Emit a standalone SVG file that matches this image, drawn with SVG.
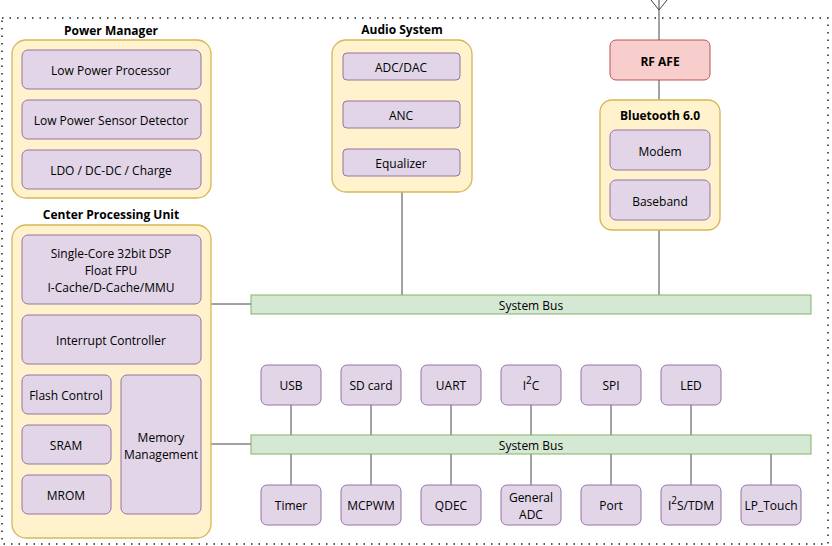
<svg xmlns="http://www.w3.org/2000/svg" width="832" height="546" viewBox="0 0 832 546">
<style>
text{font-family:"Open Sans","Noto Sans",sans-serif;font-size:12px;fill:#000;text-anchor:middle;dominant-baseline:central}
.t{font-weight:bold}
.c{fill:#fff2cc;stroke:#d6b656;stroke-width:1.3}
.b{fill:#e1d5e7;stroke:#9673a6;stroke-width:1}
.bus{fill:#d5e8d4;stroke:#82b366}
#conn line,#conn path{stroke:#444;stroke-width:1;fill:none}
</style>
<rect width="832" height="546" fill="#fff"/>
<rect x="2" y="18" width="826" height="526" fill="none" stroke="#222" stroke-width="1.5" stroke-dasharray="1.5 6"/>
<g id="conn">
<path d="M659 40V0M659 10L651 0M659 10L667 0"/>
<line x1="659" y1="80" x2="659" y2="100"/>
<line x1="659" y1="230" x2="659" y2="295"/>
<line x1="402" y1="192" x2="402" y2="295"/>
<line x1="211" y1="304" x2="251" y2="304"/>
<line x1="211" y1="444" x2="251" y2="444"/>
<path d="M291 405V435M371 405V435M451 405V435M531 405V435M611 405V435M691 405V435"/>
<path d="M291 454V485M371 454V485M451 454V485M531 454V485M611 454V485M691 454V485M771 454V485"/>
</g>
<g id="power"><rect class="c" x="12" y="40" width="199" height="158" rx="14"/><text class="t" x="111" y="30">Power Manager</text>
<rect class="b" x="22" y="50" width="179" height="39" rx="6"/><text x="111" y="70">Low Power Processor</text>
<rect class="b" x="22" y="100" width="179" height="39" rx="6"/><text x="111" y="120">Low Power Sensor Detector</text>
<rect class="b" x="22" y="150" width="179" height="39" rx="6"/><text x="111" y="170">LDO / DC-DC / Charge</text></g>
<g id="cpu"><rect class="c" x="12" y="225" width="199" height="313" rx="14"/><text class="t" x="111" y="214">Center Processing Unit</text>
<rect class="b" x="22" y="235" width="179" height="69" rx="6"/><text x="111" y="253">Single-Core 32bit DSP</text><text x="111" y="270">Float FPU</text><text x="111" y="287">I-Cache/D-Cache/MMU</text>
<rect class="b" x="22" y="315" width="179" height="49" rx="6"/><text x="111" y="340">Interrupt Controller</text>
<rect class="b" x="22" y="375" width="89" height="39" rx="6"/><text x="66" y="395">Flash Control</text>
<rect class="b" x="22" y="425" width="89" height="39" rx="6"/><text x="66" y="445">SRAM</text>
<rect class="b" x="22" y="475" width="89" height="39" rx="6"/><text x="66" y="495">MROM</text>
<rect class="b" x="121" y="375" width="80" height="139" rx="6"/><text x="161" y="437">Memory</text><text x="161" y="454">Management</text></g>
<g id="audio"><rect class="c" x="332" y="40" width="140" height="152" rx="14"/><text class="t" x="402" y="29">Audio System</text>
<rect class="b" x="343" y="53" width="117" height="27" rx="4"/><text x="401" y="67">ADC/DAC</text>
<rect class="b" x="343" y="101" width="117" height="27" rx="4"/><text x="401" y="115">ANC</text>
<rect class="b" x="343" y="149" width="117" height="27" rx="4"/><text x="401" y="163">Equalizer</text></g>
<g id="rf"><rect x="610" y="40" width="100" height="40" rx="6" fill="#f8cecc" stroke="#b85450"/><text class="t" x="660" y="61">RF AFE</text></g>
<g id="bt"><rect class="c" x="600" y="100" width="120" height="130" rx="12"/><text class="t" x="660" y="115">Bluetooth 6.0</text>
<rect class="b" x="610" y="130" width="100" height="40" rx="6"/><text x="660" y="151">Modem</text>
<rect class="b" x="610" y="180" width="100" height="40" rx="6"/><text x="660" y="201">Baseband</text></g>
<g id="bus1"><rect class="bus" x="251" y="295" width="560" height="19"/><text x="531" y="305">System Bus</text></g>
<g id="bus2"><rect class="bus" x="251" y="435" width="560" height="19"/><text x="531" y="445">System Bus</text></g>
<g id="top">
<rect class="b" x="261" y="365" width="60" height="40" rx="6"/><text x="291" y="385">USB</text>
<rect class="b" x="341" y="365" width="60" height="40" rx="6"/><text x="371" y="385">SD card</text>
<rect class="b" x="421" y="365" width="60" height="40" rx="6"/><text x="451" y="385">UART</text>
<rect class="b" x="501" y="365" width="60" height="40" rx="6"/><text x="531" y="385">I<tspan dy="-5" font-size="10">2</tspan><tspan dy="5">C</tspan></text>
<rect class="b" x="581" y="365" width="60" height="40" rx="6"/><text x="611" y="385">SPI</text>
<rect class="b" x="661" y="365" width="60" height="40" rx="6"/><text x="691" y="385">LED</text>
</g>
<g id="bottom">
<rect class="b" x="261" y="485" width="60" height="40" rx="6"/><text x="291" y="505">Timer</text>
<rect class="b" x="341" y="485" width="60" height="40" rx="6"/><text x="371" y="505">MCPWM</text>
<rect class="b" x="421" y="485" width="60" height="40" rx="6"/><text x="451" y="505">QDEC</text>
<rect class="b" x="501" y="485" width="60" height="40" rx="6"/><text x="531" y="497">General</text><text x="531" y="514">ADC</text>
<rect class="b" x="581" y="485" width="60" height="40" rx="6"/><text x="611" y="505">Port</text>
<rect class="b" x="661" y="485" width="60" height="40" rx="6"/><text x="691" y="505">I<tspan dy="-5" font-size="10">2</tspan><tspan dy="5">S/TDM</tspan></text>
<rect class="b" x="741" y="485" width="60" height="40" rx="6"/><text x="771" y="505">LP_Touch</text>
</g>
</svg>
